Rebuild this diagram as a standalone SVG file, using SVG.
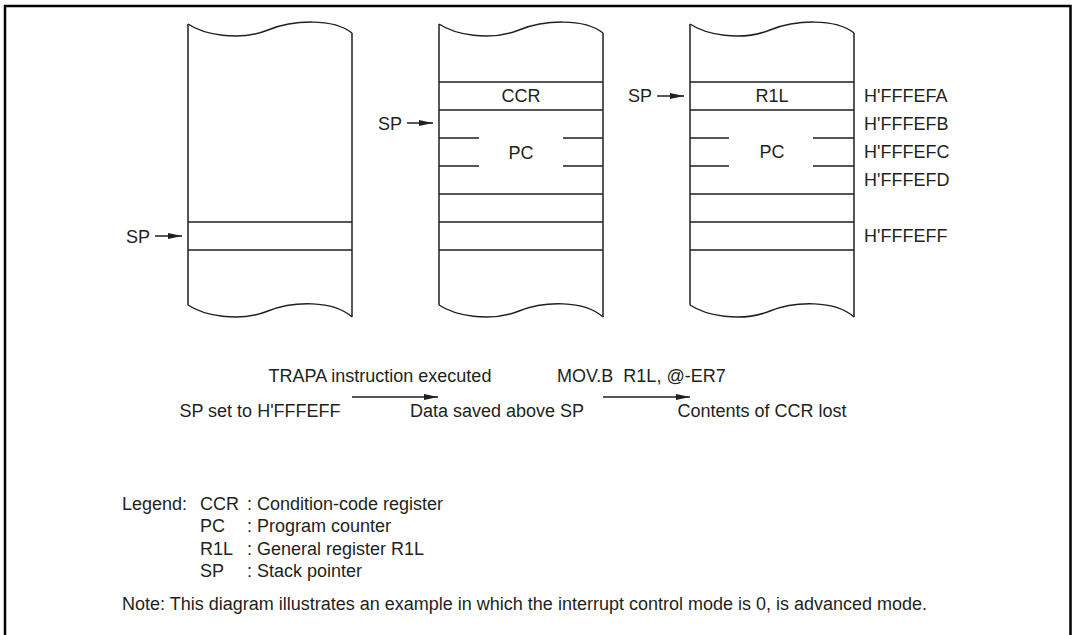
<svg xmlns="http://www.w3.org/2000/svg" width="1072" height="635" viewBox="0 0 1072 635">
<defs>
<style>
text{font-family:"Liberation Sans",Arial,sans-serif;font-size:18px;fill:#231f20}
.c{text-anchor:middle}
.pre{white-space:pre}
.ln{stroke:#231f20;stroke-width:1.5;fill:none}
.fr{stroke:#000;stroke-width:2.5;fill:none}
</style>
<marker id="ah" markerWidth="14" markerHeight="8" refX="14" refY="4" orient="auto" markerUnits="userSpaceOnUse">
<path d="M0,1 L14,4 L0,7 Z" fill="#231f20"/>
</marker>
</defs>
<rect width="1072" height="635" fill="#fff"/>
<path class="fr" d="M5,640 V6 H1070.5 V640"/>

<g id="stack1">
<path class="ln" d="M188,24 C203,34 238,42 268,30 C293,20 333,18 352,33"/>
<path class="ln" d="M188,305 C203,315 238,323 268,311 C293,301 333,300 352,317"/>
<path class="ln" d="M188,24 V305 M352,33 V317"/>
<path class="ln" d="M188,222 H352 M188,250 H352"/>
<text x="150" y="243" text-anchor="end">SP</text>
</g>

<g id="stack2">
<path class="ln" d="M439,24 C454,34 489,42 519,30 C544,20 584,18 603,33"/>
<path class="ln" d="M439,305 C454,315 489,323 519,311 C544,301 584,300 603,317"/>
<path class="ln" d="M439,24 V305 M603,33 V317"/>
<path class="ln" d="M439,82 H603 M439,110 H603 M439,138 H479 M563,138 H603 M439,166 H479 M563,166 H603 M439,194 H603 M439,222 H603 M439,250 H603"/>
<text class="c" x="521" y="102">CCR</text>
<text class="c" x="521" y="159">PC</text>
<text x="402" y="130" text-anchor="end">SP</text>
</g>

<g id="stack3">
<path class="ln" d="M690,24 C705,34 740,42 770,30 C795,20 835,18 854,33"/>
<path class="ln" d="M690,305 C705,315 740,323 770,311 C795,301 835,300 854,317"/>
<path class="ln" d="M690,24 V305 M854,33 V317"/>
<path class="ln" d="M690,82 H854 M690,110 H854 M690,138 H729 M813,138 H854 M690,166 H729 M813,166 H854 M690,194 H854 M690,222 H854 M690,250 H854"/>
<text class="c" x="772" y="102">R1L</text>
<text class="c" x="772" y="158">PC</text>
<text x="652" y="102" text-anchor="end">SP</text>
<text x="864" y="102">H'FFFEFA</text>
<text x="864" y="130">H'FFFEFB</text>
<text x="864" y="158">H'FFFEFC</text>
<text x="864" y="186">H'FFFEFD</text>
<text x="864" y="242">H'FFFEFF</text>
</g>

<g id="connectors">
<line class="ln" x1="155" y1="236" x2="182" y2="236" marker-end="url(#ah)"/>
<line class="ln" x1="407" y1="123" x2="433" y2="123" marker-end="url(#ah)"/>
<line class="ln" x1="657" y1="96" x2="684" y2="96" marker-end="url(#ah)"/>
<line class="ln" x1="352" y1="397" x2="438" y2="397" marker-end="url(#ah)"/>
<line class="ln" x1="603" y1="397" x2="690" y2="397" marker-end="url(#ah)"/>
</g>

<g id="captions">
<text class="c" x="380" y="382">TRAPA instruction executed</text>
<text class="pre" x="557" y="382">MOV.B  R1L, @-ER7</text>
<text class="c" x="260" y="417">SP set to H'FFFEFF</text>
<text class="c" x="497" y="417">Data saved above SP</text>
<text class="c" x="762" y="417">Contents of CCR lost</text>
</g>

<g id="legend">
<text x="122" y="510">Legend:</text>
<text x="200" y="510">CCR</text><text x="247" y="510">: Condition-code register</text>
<text x="200" y="532">PC</text><text x="247" y="532">: Program counter</text>
<text x="200" y="555">R1L</text><text x="247" y="555">: General register R1L</text>
<text x="200" y="577">SP</text><text x="247" y="577">: Stack pointer</text>
<text x="122" y="610">Note: This diagram illustrates an example in which the interrupt control mode is 0, is advanced mode.</text>
</g>
</svg>
